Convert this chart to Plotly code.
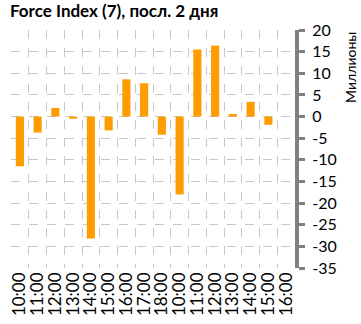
import plotly.graph_objects as go

# Hourly Force Index (7) over the last two trading days, in millions
hours = ["10:00", "11:00", "12:00", "13:00", "14:00", "15:00", "16:00", "17:00", "18:00",
         "10:00", "11:00", "12:00", "13:00", "14:00", "15:00", "16:00"]
force_index = [-11.5, -3.7, 2.0, -0.5, -28.2, -3.2, 8.6, 7.7, -4.2,
               -18.0, 15.5, 16.4, 0.6, 3.4, -1.9, None]
y_ticks = [20, 15, 10, 5, 0, -5, -10, -15, -20, -25, -30, -35]

positions = list(range(len(hours)))
grid_color = "#C8C8C8"
axis_gray = "#808080"
font_name = "Lato"

fig = go.Figure(
    go.Bar(
        x=positions,
        y=force_index,
        marker=dict(color="#FF9C00", line=dict(width=0)),
        hoverinfo="skip",
    )
)

fig.update_layout(
    width=361,
    height=324,
    margin=dict(l=8, r=66, t=30, b=55),
    paper_bgcolor="white",
    plot_bgcolor="white",
    showlegend=False,
    bargap=0.54,
    font=dict(family=font_name, color="#000000"),
    title=dict(
        text="<b>Force Index (7), посл. 2 дня</b>",
        font=dict(family=font_name, size=17, color="#000000"),
        xref="container", yref="container",
        x=10 / 361, xanchor="left",
        y=1 - 5 / 324, yanchor="top",
        pad=dict(l=0, r=0, t=0, b=0),
    ),
)

fig.update_xaxes(
    range=[-0.5, len(hours) - 0.5],
    tickmode="array",
    tickvals=positions,
    ticktext=hours,
    tickangle=-90,
    tickfont=dict(family=font_name, size=17, color="#000000"),
    showgrid=False,
    zeroline=False,
    showline=False,
    ticks="",
    minor=dict(
        tickmode="array",
        tickvals=[p - 0.5 for p in positions],
        showgrid=True,
        gridcolor=grid_color,
        griddash="dash",
        gridwidth=1,
        ticks="",
    ),
)

fig.update_yaxes(
    side="right",
    range=[-35, 20],
    tickmode="array",
    tickvals=y_ticks,
    ticktext=[str(v) for v in y_ticks],
    tickfont=dict(family=font_name, size=16, color="#000000"),
    showgrid=True,
    gridcolor=grid_color,
    griddash="dash",
    gridwidth=1,
    zeroline=False,
    showline=True,
    linecolor=axis_gray,
    linewidth=4,
    ticks="outside",
    ticklen=6,
    tickwidth=3,
    tickcolor=axis_gray,
    ticklabelstandoff=4,
)

fig.add_annotation(
    text="Миллионы",
    textangle=-90,
    xref="paper", yref="paper",
    x=(351 - 8) / 287, xanchor="center",
    y=1.0, yanchor="top",
    showarrow=False,
    font=dict(family=font_name, size=14, color="#000000"),
)

fig.write_html("out.html")
